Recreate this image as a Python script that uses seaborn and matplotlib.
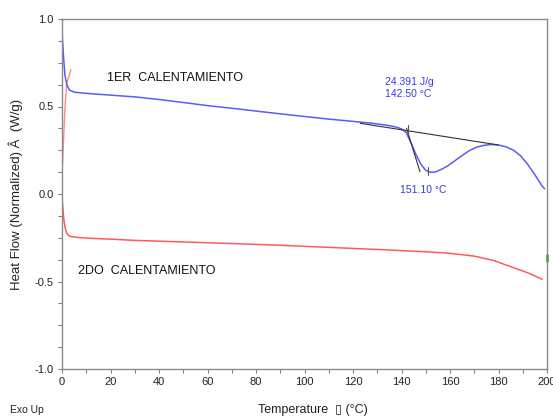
import numpy as np
import pandas as pd
import matplotlib
matplotlib.use("Agg")
import matplotlib.pyplot as plt
from matplotlib.ticker import MultipleLocator
import seaborn as sns

# First heating scan (W/g vs °C)
temp_1er = [0, 0.3, 0.7, 1.2, 2, 3, 5, 10, 20, 30, 40, 50, 60, 70, 80, 90, 100,
            110, 120, 128, 134, 138, 140, 142, 144, 146, 148, 150, 152, 154, 156,
            159, 162, 165, 168, 171, 174, 177, 180, 183, 186, 189, 192, 195, 198, 199]
flow_1er = [0.93, 0.86, 0.77, 0.68, 0.625, 0.595, 0.582, 0.575, 0.565, 0.555, 0.54,
            0.523, 0.505, 0.49, 0.474, 0.458, 0.443, 0.428, 0.415, 0.404, 0.393,
            0.382, 0.372, 0.35, 0.29, 0.225, 0.17, 0.135, 0.124, 0.126, 0.138,
            0.16, 0.19, 0.22, 0.248, 0.268, 0.278, 0.283, 0.28, 0.27, 0.252, 0.22,
            0.17, 0.11, 0.045, 0.03]

# Initial transient of the first scan
temp_start = [0, 0.3, 1.2, 1.9, 3.7]
flow_start = [0.12, 0.2, 0.48, 0.63, 0.71]

# Second heating scan
temp_2do = [0, 0.4, 0.8, 1.3, 2, 3, 5, 10, 20, 30, 50, 70, 90, 110, 130, 150,
            160, 170, 178, 186, 192, 198]
flow_2do = [-0.02, -0.09, -0.15, -0.195, -0.225, -0.24, -0.246, -0.252, -0.258,
            -0.265, -0.274, -0.283, -0.293, -0.305, -0.317, -0.33, -0.339,
            -0.355, -0.38, -0.42, -0.45, -0.487]

# Peak integration: baseline, onset tangent and marker ticks
base_t = [123, 180]
base_f = [0.404, 0.28]
tang_t = [142.1, 147.6]
tang_f = [0.375, 0.128]
onset_t, onset_f = 142.50, [0.394, 0.326]
peak_t, peak_f = 151.10, [0.154, 0.109]
enthalpy = 24.391

x_ticks = list(range(0, 201, 20))
y_ticks = [1.0, 0.5, 0.0, -0.5, -1.0]

sns.set_style("ticks")
plt.rcParams["font.family"] = ["Liberation Sans", "DejaVu Sans"]

fig = plt.figure(figsize=(5.53, 4.17), dpi=100)
ax = fig.add_axes([62 / 553, 1 - 369 / 417, 485 / 553, 350 / 417])

blue = "#5a5aff"
red = "#ff5a5a"

df1 = pd.DataFrame({"T": temp_1er, "HF": flow_1er})
df0 = pd.DataFrame({"T": temp_start, "HF": flow_start})
df2 = pd.DataFrame({"T": temp_2do, "HF": flow_2do})

sns.lineplot(data=df0, x="T", y="HF", ax=ax, color="#ff8a8a", lw=1.0, sort=False)
sns.lineplot(data=df1, x="T", y="HF", ax=ax, color=blue, lw=1.1, sort=False)
sns.lineplot(data=df2, x="T", y="HF", ax=ax, color=red, lw=1.1, sort=False)

ax.plot(base_t, base_f, color="#333333", lw=0.8)
ax.plot(tang_t, tang_f, color="#333333", lw=0.8)
ax.plot([onset_t, onset_t], onset_f, color="#555555", lw=0.8)
ax.plot([peak_t, peak_t], peak_f, color="#555555", lw=0.8)
ax.plot([200, 200], [-0.35, -0.385], color="#44aa44", lw=2, clip_on=False)

ax.set_xlim(0, 200)
ax.set_ylim(-1.0, 1.0)
ax.set_xticks(x_ticks)
ax.set_yticks(y_ticks)
ax.set_yticklabels([f"{v:.1f}" for v in y_ticks])
ax.xaxis.set_minor_locator(MultipleLocator(10))
ax.yaxis.set_minor_locator(MultipleLocator(0.125))
ax.tick_params(which="both", direction="out", length=3, width=0.8,
               color="#808080", labelsize=8, labelcolor="#222222", pad=3)

for s in ax.spines.values():
    s.set_color("#8a8a8a")
    s.set_linewidth(1.0)

ax.set_xlabel("")
ax.set_ylabel("Heat Flow (Normalized) \u00c2  (W/g)", fontsize=9.5, color="#222222",
              labelpad=8)
fig.text(313 / 553, 1 - 410 / 417, "Temperature  \u25af (\u00b0C)", fontsize=9,
         color="#222222", ha="center", va="center")
fig.text(10 / 553, 1 - 410 / 417, "Exo Up", fontsize=7.5, color="#222222",
         ha="left", va="center")

ax.text(18.5, 0.665, "1ER  CALENTAMIENTO", fontsize=9, color="#111111",
        ha="left", va="center")
ax.text(6.5, -0.44, "2DO  CALENTAMIENTO", fontsize=9, color="#111111",
        ha="left", va="center")
ax.text(133, 0.605, f"{enthalpy:.3f} J/g\n{onset_t:.2f} \u00b0C", fontsize=7.5,
        color="#3a3aee", ha="left", va="center", linespacing=1.2)
ax.text(139.5, 0.025, f"{peak_t:.2f} \u00b0C", fontsize=7.5, color="#3a3aee",
        ha="left", va="center")

fig.savefig("out.png", dpi=100)
